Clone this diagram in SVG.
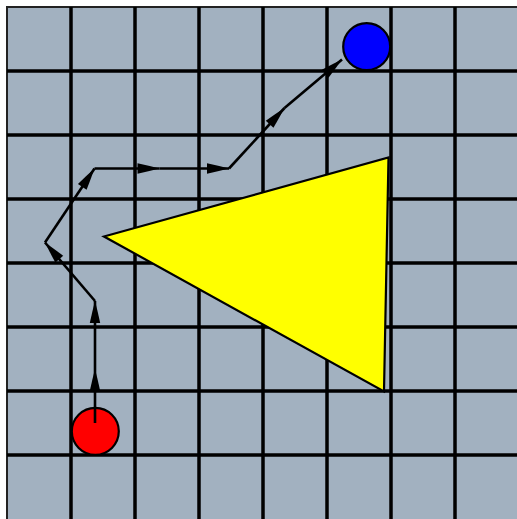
<svg xmlns="http://www.w3.org/2000/svg" width="517" height="519" viewBox="0 0 517 519">
  <defs>
    <style>
      .grid line { stroke: #000; stroke-width: 3.5; }
      .node { stroke: #000; stroke-width: 2.2; }
      .edge { fill: none; stroke: #000; stroke-width: 2.6; marker-end: url(#arrow); }
    </style>
    <marker id="arrow" markerUnits="userSpaceOnUse" orient="auto" refX="22" refY="0" markerWidth="24" markerHeight="12" viewBox="0 -6 24 12" overflow="visible">
      <path d="M0,-5.2 Q12,-2.6 22,0 Q12,2.6 0,5.2 Z" fill="#000"/>
    </marker>
  </defs>
  <rect x="0" y="0" width="517" height="519" fill="#ffffff"/>
  <g id="board">
    <rect x="7" y="7" width="530" height="530" fill="#a2b1c0" stroke="#222" stroke-width="2"/>
    <g class="grid">
      <line x1="71" y1="7" x2="71" y2="519"/>
      <line x1="135" y1="7" x2="135" y2="519"/>
      <line x1="199" y1="7" x2="199" y2="519"/>
      <line x1="263" y1="7" x2="263" y2="519"/>
      <line x1="327" y1="7" x2="327" y2="519"/>
      <line x1="391" y1="7" x2="391" y2="519"/>
      <line x1="455" y1="7" x2="455" y2="519"/>
      <line x1="7" y1="71" x2="517" y2="71"/>
      <line x1="7" y1="135" x2="517" y2="135"/>
      <line x1="7" y1="199" x2="517" y2="199"/>
      <line x1="7" y1="263" x2="517" y2="263"/>
      <line x1="7" y1="327" x2="517" y2="327"/>
      <line x1="7" y1="391" x2="517" y2="391"/>
      <line x1="7" y1="455" x2="517" y2="455"/>
    </g>
  </g>
  <g id="obstacle">
    <polygon class="node" points="104,236.5 388.5,157.5 384,391.5" fill="#ffff00"/>
  </g>
  <g id="start">
    <circle class="node" cx="95.3" cy="431.3" r="23.5" fill="#ff0000"/>
  </g>
  <g id="goal">
    <circle class="node" cx="366.7" cy="46.7" r="23.5" fill="#0000ff"/>
  </g>
  <g id="connectors">
    <line class="edge" x1="95" y1="423" x2="95" y2="369"/>
    <line class="edge" x1="95" y1="369" x2="95" y2="301"/>
    <line class="edge" x1="95" y1="301" x2="45" y2="242.5"/>
    <line class="edge" x1="45" y1="242.5" x2="94.5" y2="168.5"/>
    <line class="edge" x1="94.5" y1="168.5" x2="159.5" y2="168.5"/>
    <line class="edge" x1="159.5" y1="168.5" x2="229" y2="168.5"/>
    <line class="edge" x1="229" y1="168.5" x2="284.5" y2="108"/>
    <line class="edge" x1="284.5" y1="108" x2="342" y2="59.5"/>
  </g>
</svg>
